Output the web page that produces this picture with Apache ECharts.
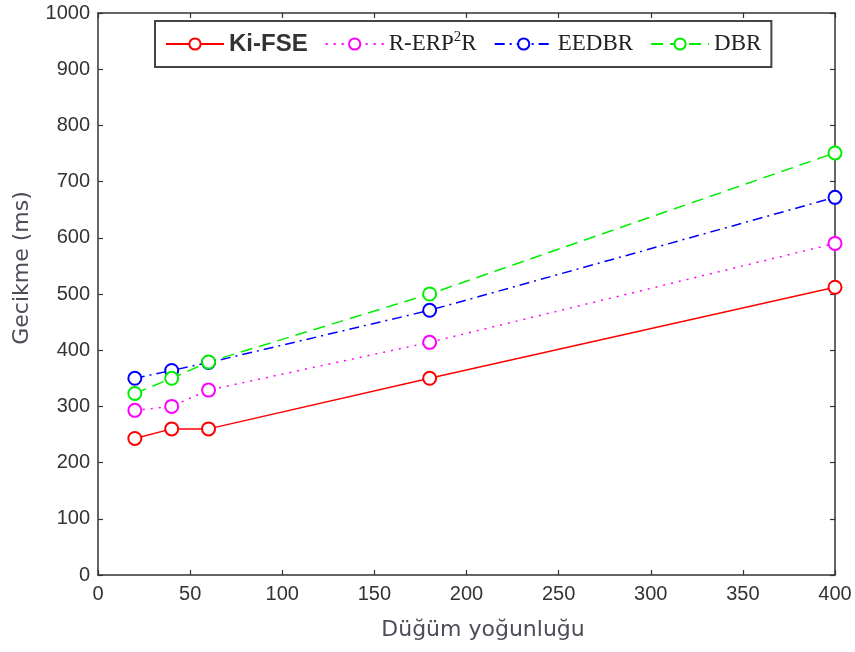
<!DOCTYPE html>
<html>
<head>
<meta charset="utf-8">
<script src="https://cdn.jsdelivr.net/npm/echarts@6/dist/echarts.min.js"></script>
<style>
html,body{margin:0;padding:0;background:#fff;}
#chart{width:855px;height:652px;}
</style>
</head>
<body>
<div id="chart"></div>
<script>
// ---- data ----
var nodeDensity = [20, 40, 60, 180, 400];
var seriesNames = ['Ki-FSE', 'R-ERP2R', 'EEDBR', 'DBR'];
var kiFse  = [243, 260, 260, 350, 512];
var rErp2r = [293, 300, 329, 414, 590];
var eedbr  = [350, 364, 378, 471, 672];
var dbr    = [323, 350, 379, 500, 751];
var xTitle = 'Düğüm yoğunluğu';
var yTitle = 'Gecikme (ms)';

function pairs(vals) {
  return nodeDensity.map(function (x, i) { return [x, vals[i]]; });
}

var chart = echarts.init(document.getElementById('chart'), null, {renderer: 'canvas'});

var axisCol = '#333';
var tickFont = {color: '#333', fontSize: 20, fontFamily: 'Liberation Sans, Arial, sans-serif',
  formatter: function (v) { return String(v); }};

function mkSeries(name, vals, color, type) {
  return {
    name: name,
    type: 'line',
    data: pairs(vals),
    symbol: 'emptyCircle',
    symbolSize: 13,
    showSymbol: true,
    lineStyle: {color: color, width: 1.5, type: type},
    itemStyle: {color: color, borderColor: color, borderWidth: 1.3},
    emphasis: {disabled: true},
    animation: false,
    z: 3
  };
}

var option = {
  animation: false,
  backgroundColor: '#fff',
  grid: {left: 98, right: 20, top: 13, bottom: 77, containLabel: false},
  legend: {
    show: true,
    left: 155,
    top: 21,
    orient: 'horizontal',
    padding: [9, 10, 9, 10],
    itemGap: 17,
    itemWidth: 58,
    itemHeight: 14,
    backgroundColor: '#fff',
    borderColor: '#444',
    borderWidth: 2,
    selectedMode: false,
    data: seriesNames,
    formatter: function (name) {
      if (name === 'Ki-FSE') return '{b|Ki-FSE}';
      if (name === 'R-ERP2R') return '{s|R-ERP}{sup|2}{s|R}';
      return '{s|' + name + '}';
    },
    textStyle: {
      color: '#222',
      padding: [0, 0, 0, 0],
      rich: {
        b: {fontSize: 24, fontWeight: 'bold', fontFamily: 'Liberation Sans, Arial, sans-serif', color: '#333', lineHeight: 28, height: 28},
        s: {fontSize: 23, fontFamily: 'Liberation Serif, Times New Roman, serif', color: '#222', lineHeight: 28, height: 28, verticalAlign: 'bottom', padding: [0,0,0,0]},
        sup: {fontSize: 15, fontFamily: 'Liberation Serif, Times New Roman, serif', color: '#222', verticalAlign: 'top', lineHeight: 16, padding: [0,0,0,0]}
      }
    }
  },
  xAxis: [{
    type: 'value',
    min: 0, max: 400, interval: 50,
    position: 'bottom',
    axisLine: {show: true, onZero: false, lineStyle: {color: axisCol, width: 1.5}},
    axisTick: {show: true, inside: true, length: 5, lineStyle: {color: axisCol, width: 1.2}},
    axisLabel: Object.assign({margin: 9}, tickFont),
    splitLine: {show: false}
  }, {
    type: 'value',
    min: 0, max: 400, interval: 50,
    position: 'top',
    axisLine: {show: true, onZero: false, lineStyle: {color: axisCol, width: 1.5}},
    axisTick: {show: true, inside: true, length: 5, lineStyle: {color: axisCol, width: 1.2}},
    axisLabel: {show: false},
    splitLine: {show: false}
  }],
  yAxis: [{
    type: 'value',
    min: 0, max: 1000, interval: 100,
    position: 'left',
    axisLine: {show: true, onZero: false, lineStyle: {color: axisCol, width: 1.5}},
    axisTick: {show: true, inside: true, length: 5, lineStyle: {color: axisCol, width: 1.2}},
    axisLabel: Object.assign({margin: 8}, tickFont),
    splitLine: {show: false}
  }, {
    type: 'value',
    min: 0, max: 1000, interval: 100,
    position: 'right',
    axisLine: {show: true, onZero: false, lineStyle: {color: axisCol, width: 1.5}},
    axisTick: {show: true, inside: true, length: 5, lineStyle: {color: axisCol, width: 1.2}},
    axisLabel: {show: false},
    splitLine: {show: false}
  }],
  graphic: [{
    type: 'text',
    x: 22, y: 268,
    rotation: Math.PI / 2,
    style: {
      text: yTitle,
      fill: '#4d4d5a',
      fontSize: 22,
      fontFamily: 'DejaVu Sans, sans-serif',
      align: 'center',
      verticalAlign: 'middle'
    }
  }, {
    type: 'text',
    x: 483, y: 630,
    style: {
      text: xTitle,
      fill: '#4d4d5a',
      fontSize: 22,
      fontFamily: 'DejaVu Sans, sans-serif',
      align: 'center',
      verticalAlign: 'middle'
    }
  }],
  series: [
    mkSeries('Ki-FSE', kiFse, '#ff0000', 'solid'),
    mkSeries('R-ERP2R', rErp2r, '#ff00ff', [2, 6]),
    mkSeries('EEDBR', eedbr, '#0000ff', [10, 5, 2, 5]),
    mkSeries('DBR', dbr, '#00ee00', [12, 7])
  ]
};

chart.setOption(option);
</script>
</body>
</html>
